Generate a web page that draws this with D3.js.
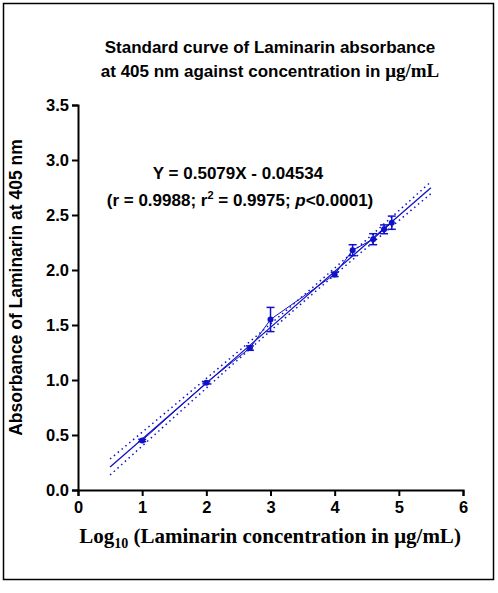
<!DOCTYPE html>
<html><head><meta charset="utf-8">
<script src="https://cdn.jsdelivr.net/npm/d3@7"></script>
<style>body{margin:0;background:#fff}</style></head>
<body><svg id="c" width="498" height="593"></svg>
<script>
const xs = [1, 2, 2.68, 3, 4, 4.28, 4.6, 4.77, 4.89]
const ys = [0.45, 0.975, 1.29, 1.55, 1.96, 2.18, 2.28, 2.37, 2.43]
const errs = [0.01, 0.01, 0.02, 0.11, 0.02, 0.05, 0.05, 0.04, 0.06]
const slope = 0.5079, intercept = -0.04534
const xTicks = [0, 1, 2, 3, 4, 5, 6]
const yTicks = [0, 0.5, 1, 1.5, 2, 2.5, 3, 3.5]

const svg = d3.select('#c')
const margin = { top: 105, left: 78, right: 35, bottom: 103 }
const width = 498 - margin.left - margin.right
const height = 593 - margin.top - margin.bottom
const blue = '#1010c8'

svg.append('rect').attr('x', 3.5).attr('y', 3.5).attr('width', 490).attr('height', 576)
  .attr('fill', 'none').attr('stroke', '#000').attr('stroke-width', 1.5)

const g = svg.append('g').attr('transform', 'translate(' + margin.left + ',' + margin.top + ')')
const x = d3.scaleLinear().domain([0, 6]).range([0, width])
const y = d3.scaleLinear().domain([0, 3.5]).range([height, 0])

g.append('g').attr('transform', 'translate(0,' + height + ')')
  .call(d3.axisBottom(x).tickValues(xTicks).tickFormat(d3.format('d')).tickSizeOuter(0).tickSize(6))
  .call(a => a.selectAll('text').attr('font-size', 16.5).attr('font-family', 'Liberation Sans, Arial').attr('font-weight', 'bold').attr('dy', '0.85em'))
g.append('g')
  .call(d3.axisLeft(y).tickValues(yTicks).tickFormat(d3.format('.1f')).tickSizeOuter(0).tickSize(6))
  .call(a => a.selectAll('text').attr('font-size', 16.5).attr('font-family', 'Liberation Sans, Arial').attr('font-weight', 'bold'))
g.selectAll('.domain, .tick line').attr('stroke-width', 2)

// fit + 95% band
const n = xs.length, xm = d3.mean(xs)
const sxx = d3.sum(xs, v => (v - xm) ** 2)
const se = Math.sqrt(d3.sum(xs, (v, i) => (ys[i] - (slope * v + intercept)) ** 2) / (n - 2))
const xr = d3.range(0.5, 5.501, 0.05)
const band = s => xr.map(v => [v, slope * v + intercept + s * 2.36 * se * Math.sqrt(1 / n + (v - xm) ** 2 / sxx)])
const ln = d3.line().x(d => x(d[0])).y(d => y(d[1]))
g.append('path').attr('d', ln([[0.5, slope * 0.5 + intercept], [5.5, slope * 5.5 + intercept]]))
  .attr('stroke', blue).attr('stroke-width', 1.3).attr('fill', 'none')
;[1, -1].forEach(s => g.append('path').attr('d', ln(band(s))).attr('stroke', blue)
  .attr('stroke-width', 1.5).attr('stroke-dasharray', '1.5,3.5').attr('fill', 'none'))
g.append('path').attr('d', d3.line().x((d, i) => x(xs[i])).y(d => y(d))(ys))
  .attr('stroke', blue).attr('stroke-width', 1).attr('fill', 'none')

xs.forEach((v, i) => {
  const cx = x(v)
  g.append('line').attr('x1', cx).attr('x2', cx).attr('y1', y(ys[i] - errs[i])).attr('y2', y(ys[i] + errs[i])).attr('stroke', blue).attr('stroke-width', 1.5)
  ;[-1, 1].forEach(s => g.append('line').attr('x1', cx - 4).attr('x2', cx + 4)
    .attr('y1', y(ys[i] + s * errs[i])).attr('y2', y(ys[i] + s * errs[i])).attr('stroke', blue).attr('stroke-width', 1.5))
  g.append('circle').attr('cx', cx).attr('cy', y(ys[i])).attr('r', 3).attr('fill', blue)
})

const t = (txt, xx, yy, size, fam) => svg.append('text').attr('x', xx).attr('y', yy)
  .attr('text-anchor', 'middle').attr('font-size', size).attr('font-weight', 'bold')
  .attr('font-family', fam || 'Liberation Sans, Arial').text(txt)
t('Standard curve of Laminarin absorbance', 270, 53, 17)
const t2 = t('at 405 nm against concentration in ', 270, 77, 17)
t2.append('tspan').attr('font-family', 'Liberation Serif, serif').attr('font-size', 19).text('μg/mL')
t('Y =  0.5079X - 0.04534', 238, 179, 17)
const eq = t('', 240, 206, 17)
eq.append('tspan').text('(r = 0.9988; r')
eq.append('tspan').attr('dy', -7).attr('font-size', 11).text('2')
eq.append('tspan').attr('dy', 7).text(' = 0.9975; ')
eq.append('tspan').attr('font-style', 'italic').text('p')
eq.append('tspan').text('<0.0001)')
const xl = t('', 270, 543, 21, 'Liberation Serif, serif')
xl.append('tspan').text('Log')
xl.append('tspan').attr('dy', 5).attr('font-size', 14).text('10')
xl.append('tspan').attr('dy', -5).text(' (Laminarin concentration in μg/mL)')
svg.append('text').attr('transform', 'translate(22,' + (margin.top + height / 2 - 10) + ') rotate(-90)')
  .attr('text-anchor', 'middle').attr('font-size', 17.5).attr('font-weight', 'bold')
  .attr('font-family', 'Liberation Sans, Arial').text('Absorbance of Laminarin at 405 nm')
</script></body></html>
